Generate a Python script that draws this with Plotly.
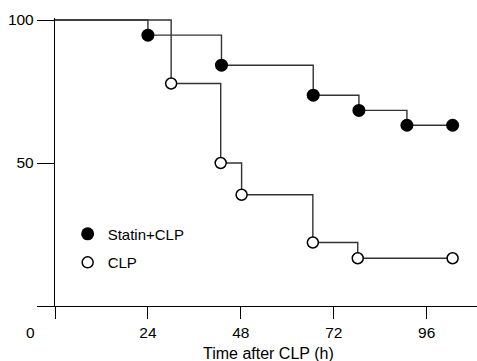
import plotly.graph_objects as go

# Kaplan-Meier survival data (time in h, survival %)
statin_t = [0, 24, 43, 66.7, 78.5, 90.9, 102.7]
statin_s = [100, 94.7, 84.2, 73.7, 68.4, 63.2, 63.2]
clp_t = [0, 30, 42.8, 48.2, 66.6, 78.2, 102.7]
clp_s = [100, 77.8, 50.0, 38.9, 22.2, 16.7, 16.7]

x_ticks = [0, 24, 48, 72, 96]
x_ticktext = ["", "24", "48", "72", "96"]
y_ticks = [0, 50, 100]
y_ticktext = ["", "50", "100"]

FONT = "Liberation Sans, Arial, Helvetica, sans-serif"
LINE_COL = "#333333"

fig = go.Figure()

# step lines
fig.add_trace(go.Scatter(x=statin_t, y=statin_s, mode="lines", line_shape="hv",
                         line=dict(color=LINE_COL, width=1.4), showlegend=False,
                         hoverinfo="skip"))
fig.add_trace(go.Scatter(x=clp_t, y=clp_s, mode="lines", line_shape="hv",
                         line=dict(color=LINE_COL, width=1.4), showlegend=False,
                         hoverinfo="skip"))
# markers (after each step)
fig.add_trace(go.Scatter(x=statin_t[1:], y=statin_s[1:], mode="markers", name="Statin+CLP",
                         legendgroup="a",
                         marker=dict(symbol="circle", size=13, color="black",
                                     line=dict(color="black", width=0)),
                         cliponaxis=False))
fig.add_trace(go.Scatter(x=clp_t[1:], y=clp_s[1:], mode="markers", name="CLP",
                         legendgroup="b",
                         marker=dict(symbol="circle", size=11, color="white",
                                     line=dict(color="black", width=1.5)),
                         cliponaxis=False))

fig.update_layout(
    width=477, height=361,
    margin=dict(l=55, r=0, t=18, b=55, autoexpand=False),
    paper_bgcolor="white", plot_bgcolor="white",
    font=dict(family=FONT, size=15.5, color="black"),
    showlegend=True,
    legend=dict(x=0.03, y=0.307, xanchor="left", yanchor="top",
                bgcolor="rgba(0,0,0,0)", font=dict(size=15, color="black"),
                tracegroupgap=6, itemsizing="trace"),
    xaxis=dict(range=[0, 109], tickvals=x_ticks, ticktext=x_ticktext,
               showline=True, linecolor="black", linewidth=1.3,
               ticks="outside", ticklen=12, tickwidth=1.3, tickcolor="black",
               showgrid=False, zeroline=False),
    yaxis=dict(range=[0, 100.7], tickvals=y_ticks, ticktext=y_ticktext,
               showline=True, linecolor="black", linewidth=1.3,
               ticks="outside", ticklen=17, tickwidth=1.3, tickcolor="black",
               showgrid=False, zeroline=False),
    annotations=[
        dict(text="0", xref="paper", yref="paper",
             x=(30 - 55) / 422, y=-(332.6 - 306) / 288,
             xanchor="center", yanchor="middle", showarrow=False,
             font=dict(size=15.5, color="black")),
        dict(text="Time after CLP (h)", xref="paper", yref="paper",
             x=(268.6 - 55) / 422, y=-(353 - 306) / 288,
             xanchor="center", yanchor="middle", showarrow=False,
             font=dict(size=16, color="black")),
    ],
)

fig.write_html("out.html")
